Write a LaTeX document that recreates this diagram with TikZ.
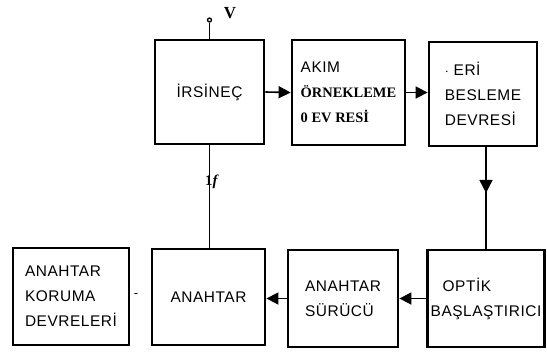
\documentclass[tikz,border=0pt]{standalone}
\usepackage{fontspec}
\setmainfont{Liberation Sans}[LetterSpace=3.5]
\newfontfamily\serifkal{Liberation Serif}
\usetikzlibrary{arrows.meta,decorations.markings}
\tikzset{
  blok/.style={rectangle, draw=black, line width=2.8bp, fill=white, align=left,
    font=\fontsize{15.5}{25}\selectfont, inner sep=0pt},
  ok/.style={-{Triangle[length=12bp,width=12bp]}, line width=1.6bp},
  ortaok/.style={line width=1.6bp, postaction={decorate},
    decoration={markings, mark=at position 0.45 with {\arrow{Triangle[length=13bp,width=13bp]}}}},
  hat/.style={line width=1.6bp},
  etiket/.style={font=\serifkal\bfseries\fontsize{17}{19}\selectfont, inner sep=1pt},
}
\newcommand{\kalin}{\serifkal\bfseries\fontsize{14.5}{25}\selectfont}
\begin{document}
\begin{tikzpicture}[x=1bp, y=-1bp]
  \useasboundingbox (0,0) rectangle (547,356);
  % ust sira
  \node[blok, minimum width=109bp, minimum height=104bp] (irs) at (209.5,92) {İRSİNEÇ};
  \node[blok, minimum width=113bp, minimum height=105bp] (akim) at (348.5,92.5)
    {AKIM\\{\kalin ÖRNEKLEME}\\{\kalin 0 EV RESİ}};
  \node[blok, minimum width=108bp, minimum height=104bp] (seri) at (483,94)
    {$\cdot$ ERİ\\BESLEME\\DEVRESİ};
  % alt sira
  \node[blok, minimum width=116bp, minimum height=97bp] (koruma) at (71,296.5)
    {ANAHTAR\\KORUMA\\DEVRELERİ};
  \node[blok, minimum width=113bp, minimum height=96bp] (anahtar) at (208.5,297) {ANAHTAR};
  \node[blok, minimum width=110bp, minimum height=97bp] (surucu) at (343,298.5)
    {ANAHTAR\\SÜRÜCÜ};
  \node[blok, minimum width=117bp, minimum height=97bp] (optik) at (486,298.5)
    {\hspace*{12bp}OPTİK\\BAŞLAŞTIRICI};
  % besleme ucu
  \node[circle, draw, line width=1.3bp, minimum size=4bp, inner sep=0pt] (uc) at (209.5,20) {};
  \node[etiket] (v) at (230,13) {V};
  \draw[hat] (irs.north) -- (uc);
  % baglantilar
  \draw[ok] (irs.east) -- (akim.west);
  \draw[ok] (akim.east) -- (akim.east -| seri.west);
  \draw[ortaok] (optik.north |- seri.south) -- (optik.north);
  \draw[ok] (optik.west) -- (surucu.east);
  \draw[ok] (surucu.west) -- (surucu.west -| anahtar.east);
  \draw[hat] (irs.south) -- (irs.south |- anahtar.north);
  \node[etiket, font=\serifkal\bfseries\fontsize{15}{17}\selectfont] (frek) at (212,182) {1\textit{f}};
  \node[font=\fontsize{13}{15}\selectfont] (tire) at (136,296) {-};
\end{tikzpicture}
\end{document}
